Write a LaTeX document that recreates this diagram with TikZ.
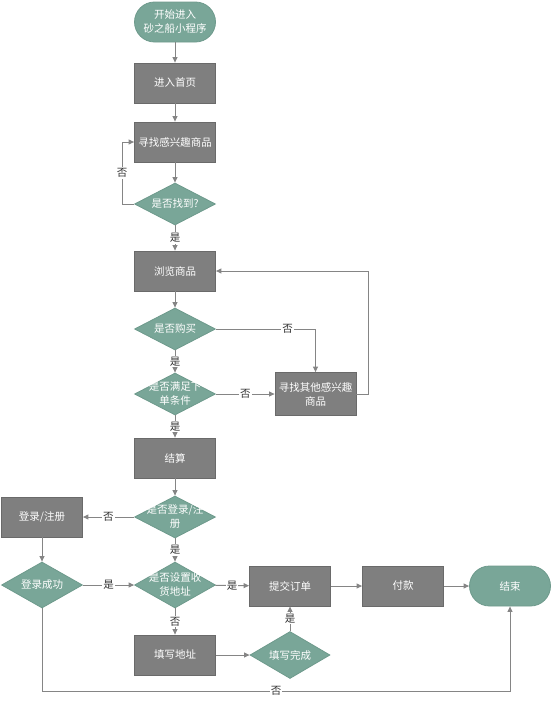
\documentclass[tikz,border=0pt]{standalone}
\usepackage{fontspec}
\setmainfont{Noto Sans CJK SC}
\usetikzlibrary{shapes.geometric,arrows.meta}
\definecolor{boxfill}{HTML}{7F7F7F}
\definecolor{boxedge}{HTML}{6A6A6A}
\definecolor{tealfill}{HTML}{79A698}
\definecolor{tealedge}{HTML}{6E9A8C}
\definecolor{linec}{HTML}{858585}
\definecolor{labc}{HTML}{333333}
\begin{document}
\begin{tikzpicture}[x=1pt,y=-1pt,
  txt/.style={text=white, font=\fontsize{10.5}{14}\selectfont, align=center},
  box/.style={txt, draw=boxedge, fill=boxfill, line width=0.8pt, minimum width=81pt, minimum height=40pt, inner sep=0pt},
  term/.style={box, fill=tealfill, draw=tealedge, rounded corners=20pt},
  dec/.style={diamond, draw=tealedge, fill=tealfill, line width=0.8pt, minimum width=81pt, minimum height=42pt, inner sep=0pt, aspect=1.93},
  link/.style={draw=linec, line width=1pt, -{Triangle[length=5.5pt,width=5pt]}},
  lbl/.style={fill=white, inner sep=1pt, text=labc, font=\fontsize{10.5}{12}\selectfont}]
\useasboundingbox (0,0) rectangle (554,704);
\node[term] (start) at (175,22) {开始进入\\砂之船小程序};
\node[box] (home) at (175,83) {进入首页};
\node[box] (find) at (175,142) {寻找感兴趣商品};
\node[dec, label={[txt]center:是否找到?}] (found) at (175,204) {};
\node[box] (browse) at (175,271) {浏览商品};
\node[dec, label={[txt]center:是否购买}] (buy) at (175,329) {};
\node[dec, label={[txt]center:是否满足下\\单条件}] (cond) at (175,394) {};
\node[box, minimum height=43pt] (other) at (315.5,394) {寻找其他感兴趣\\商品};
\node[box] (checkout) at (175,458) {结算};
\node[dec, label={[txt]center:是否登录/注\\册}] (logged) at (175,517) {};
\node[box] (login) at (42,517) {登录/注册};
\node[dec, minimum height=46pt, label={[txt]center:登录成功}] (loginok) at (42,585) {};
\node[dec, minimum height=46pt, label={[txt]center:是否设置收\\货地址}] (addr) at (175,585) {};
\node[box] (submit) at (290,586) {提交订单};
\node[box] (pay) at (403,586) {付款};
\node[term] (end) at (510,586) {结束};
\node[box] (fill) at (175,655) {填写地址};
\node[dec, minimum width=80pt, minimum height=47pt, label={[txt]center:填写完成}] (filled) at (290,655) {};
\coordinate (bl) at (42,691);
\coordinate (br) at (510,691);

\draw[link] (start) -- (home);
\draw[link] (home) -- (find);
\draw[link] (find) -- (found);
\draw[link] (found.west) -- ++(-12,0) |- node[lbl, pos=0.25]{否} (find.west);
\draw[link] (found) -- node[lbl]{是} (browse);
\draw[link] (browse) -- (buy);
\draw[link] (buy.east) -| node[lbl, pos=0.36]{否} (other.north);
\draw[link] (buy) -- node[lbl]{是} (cond);
\draw[link] (cond) -- node[lbl]{否} (other);
\draw[link] (other.east) -- ++(12,0) |- (browse.east);
\draw[link] (cond) -- node[lbl]{是} (checkout);
\draw[link] (checkout) -- (logged);
\draw[link] (logged) -- node[lbl]{否} (login);
\draw[link] (logged) -- node[lbl]{是} (addr);
\draw[link] (login) -- (loginok);
\draw[link] (loginok) -- node[lbl]{是} (addr);
\draw[link] (addr) -- node[lbl]{是} (submit);
\draw[link] (submit) -- (pay);
\draw[link] (pay) -- (end);
\draw[link] (addr) -- node[lbl]{否} (fill);
\draw[link] (fill) -- (filled);
\draw[link] (filled) -- node[lbl]{是} (submit);
\draw[link] (loginok.south) -- (bl) -- node[lbl]{否} (br) -- (end.south);
\end{tikzpicture}
\end{document}
